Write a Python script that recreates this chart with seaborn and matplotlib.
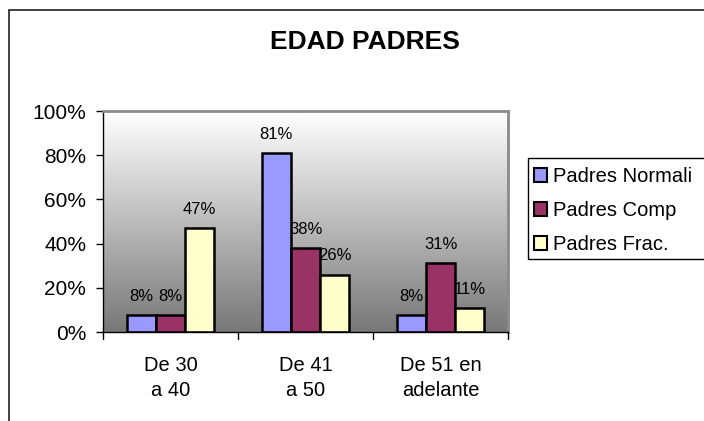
import numpy as np
import pandas as pd
import matplotlib
matplotlib.use("Agg")
import matplotlib.pyplot as plt
import seaborn as sns
from matplotlib.patches import Patch, Rectangle

categories = ["De 30\na 40", "De 41\na 50", "De 51 en\nadelante"]
series = ["Padres Normali", "Padres Comp", "Padres Frac."]
normal = [0.077, 0.81, 0.077]
comp = [0.077, 0.38, 0.31]
frac = [0.47, 0.26, 0.107]
colors = ["#9999FF", "#993366", "#FFFFCC"]
yticks = [0, 0.2, 0.4, 0.6, 0.8, 1.0]
ytick_labels = ["0%", "20%", "40%", "60%", "80%", "100%"]

rows = []
for s, vals in zip(series, [normal, comp, frac]):
    for c, v in zip(categories, vals):
        rows.append({"cat": c, "serie": s, "val": v})
df = pd.DataFrame(rows)

sns.set_theme(style="white")
plt.rcParams["font.family"] = ["Liberation Sans", "DejaVu Sans"]
plt.rcParams["text.color"] = "black"
plt.rcParams["xtick.color"] = "black"
plt.rcParams["ytick.color"] = "black"

fig = plt.figure(figsize=(7.04, 4.21), dpi=100)
ax = fig.add_axes([0.1463, 0.2114, 0.5753, 0.5249])

# gradient background
grad = np.linspace(1.0, 0.47, 256).reshape(-1, 1)
ax.imshow(grad, cmap="gray", vmin=0, vmax=1, aspect="auto",
          extent=[0, 1, 0, 1], transform=ax.transAxes, zorder=0)

sns.barplot(data=df, x="cat", y="val", hue="serie", palette=colors,
            hue_order=series, order=categories, width=0.65, saturation=1,
            edgecolor="black", linewidth=1.8, ax=ax, zorder=2, legend=False)

for cont in ax.containers:
    labels = [f"{b.get_height()*100:.0f}%" for b in cont]
    ax.bar_label(cont, labels=labels, padding=8, fontsize=12, zorder=1)

ax.set_xlim(-0.5, 2.5)
ax.set_ylim(0, 1.0)
ax.set_yticks(yticks)
ax.set_yticklabels(ytick_labels, fontsize=15)
ax.set_xticks([0, 1, 2])
ax.set_xticklabels(categories, fontsize=14.5, linespacing=1.45)
ax.set_xlabel("")
ax.set_ylabel("")
ax.tick_params(axis="y", which="both", left=True, length=5, width=1, color="black", pad=7)
ax.tick_params(axis="x", bottom=False, pad=11)
for xb in [-0.5, 0.5, 1.5, 2.5]:
    ax.plot([xb, xb], [0, -0.03], color="black", lw=1, clip_on=False, zorder=5)

for side in ["left", "bottom"]:
    ax.spines[side].set_color("black")
    ax.spines[side].set_linewidth(1)
for side in ["top", "right"]:
    ax.spines[side].set_color("#8a8a8a")
    ax.spines[side].set_linewidth(2)

fig.text(0.518, 0.90, "EDAD PADRES", ha="center", va="center",
         fontsize=19, fontweight="bold")

handles = [Patch(facecolor=c, edgecolor="black", linewidth=1.5) for c in colors]
leg = fig.legend(handles, series, loc="upper left",
                 bbox_to_anchor=(530 / 704, 1 - 163 / 421),
                 fontsize=14.5, frameon=False,
                 handlelength=0.65, handleheight=0.65, handletextpad=0.3,
                 labelspacing=0.75, borderpad=0.2, borderaxespad=0)

# legend frame (extends past the right edge like the reference)
legbox = Rectangle((528 / 704, 1 - 259 / 421), 0.4, 101 / 421, transform=fig.transFigure,
                   fill=False, edgecolor="black", linewidth=1, zorder=10)
fig.add_artist(legbox)

# outer chart border
border = Rectangle((9 / 704, -0.1), 1.2, 1 - 10 / 421 + 0.1, transform=fig.transFigure,
                   fill=False, edgecolor="#222222", linewidth=1.2, zorder=10)
fig.add_artist(border)

fig.savefig("out.png", dpi=100)
